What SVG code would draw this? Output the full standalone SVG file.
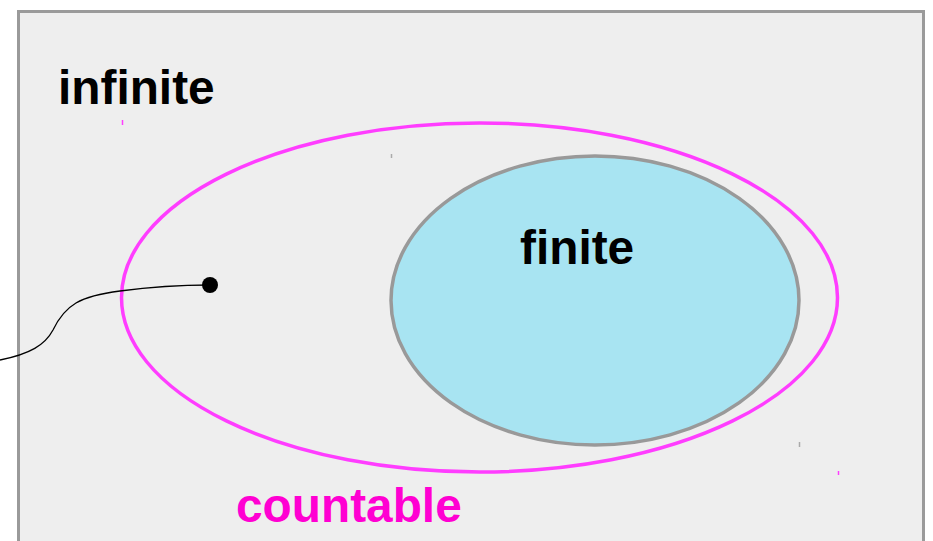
<svg xmlns="http://www.w3.org/2000/svg" width="933" height="541" viewBox="0 0 933 541">
  <style>
    .label { font-family: "Liberation Sans", Arial, sans-serif; font-weight: bold; font-size: 47.8px; }
    .tick { stroke-width: 1.5; }
  </style>
  <rect x="0" y="0" width="933" height="541" fill="#ffffff"/>
  <g id="infinite">
    <rect x="18.5" y="11.5" width="905" height="540" fill="#eeeeee" stroke="#9a9a9a" stroke-width="3"/>
    <text class="label" x="58" y="104" fill="#000000">infinite</text>
  </g>
  <g id="countable">
    <ellipse cx="479.5" cy="297.5" rx="358" ry="174.5" fill="none" stroke="#ff3dff" stroke-width="3.5"/>
    <text class="label" x="236" y="522" fill="#ff00d2">countable</text>
  </g>
  <g id="finite">
    <ellipse cx="595" cy="300.5" rx="204" ry="144.5" fill="#a8e4f2" stroke="#999999" stroke-width="3.5"/>
    <text class="label" x="520" y="264" fill="#000000">finite</text>
  </g>
  <g id="marks">
    <line class="tick" x1="122.5" y1="120" x2="122.5" y2="125" stroke="#ff3dff"/>
    <line class="tick" x1="391.5" y1="154" x2="391.5" y2="158" stroke="#aaaaaa"/>
    <line class="tick" x1="799.5" y1="442" x2="799.5" y2="447" stroke="#aaaaaa"/>
    <line class="tick" x1="838.5" y1="471" x2="838.5" y2="475" stroke="#ff3dff"/>
  </g>
  <g id="connectors">
    <path d="M0,360 C30,354 45,345 53,330 C65,305 80,296 120,291 C150,287 180,285 210,285" fill="none" stroke="#000000" stroke-width="1.3"/>
    <circle cx="210" cy="285" r="8" fill="#000000"/>
  </g>
</svg>
